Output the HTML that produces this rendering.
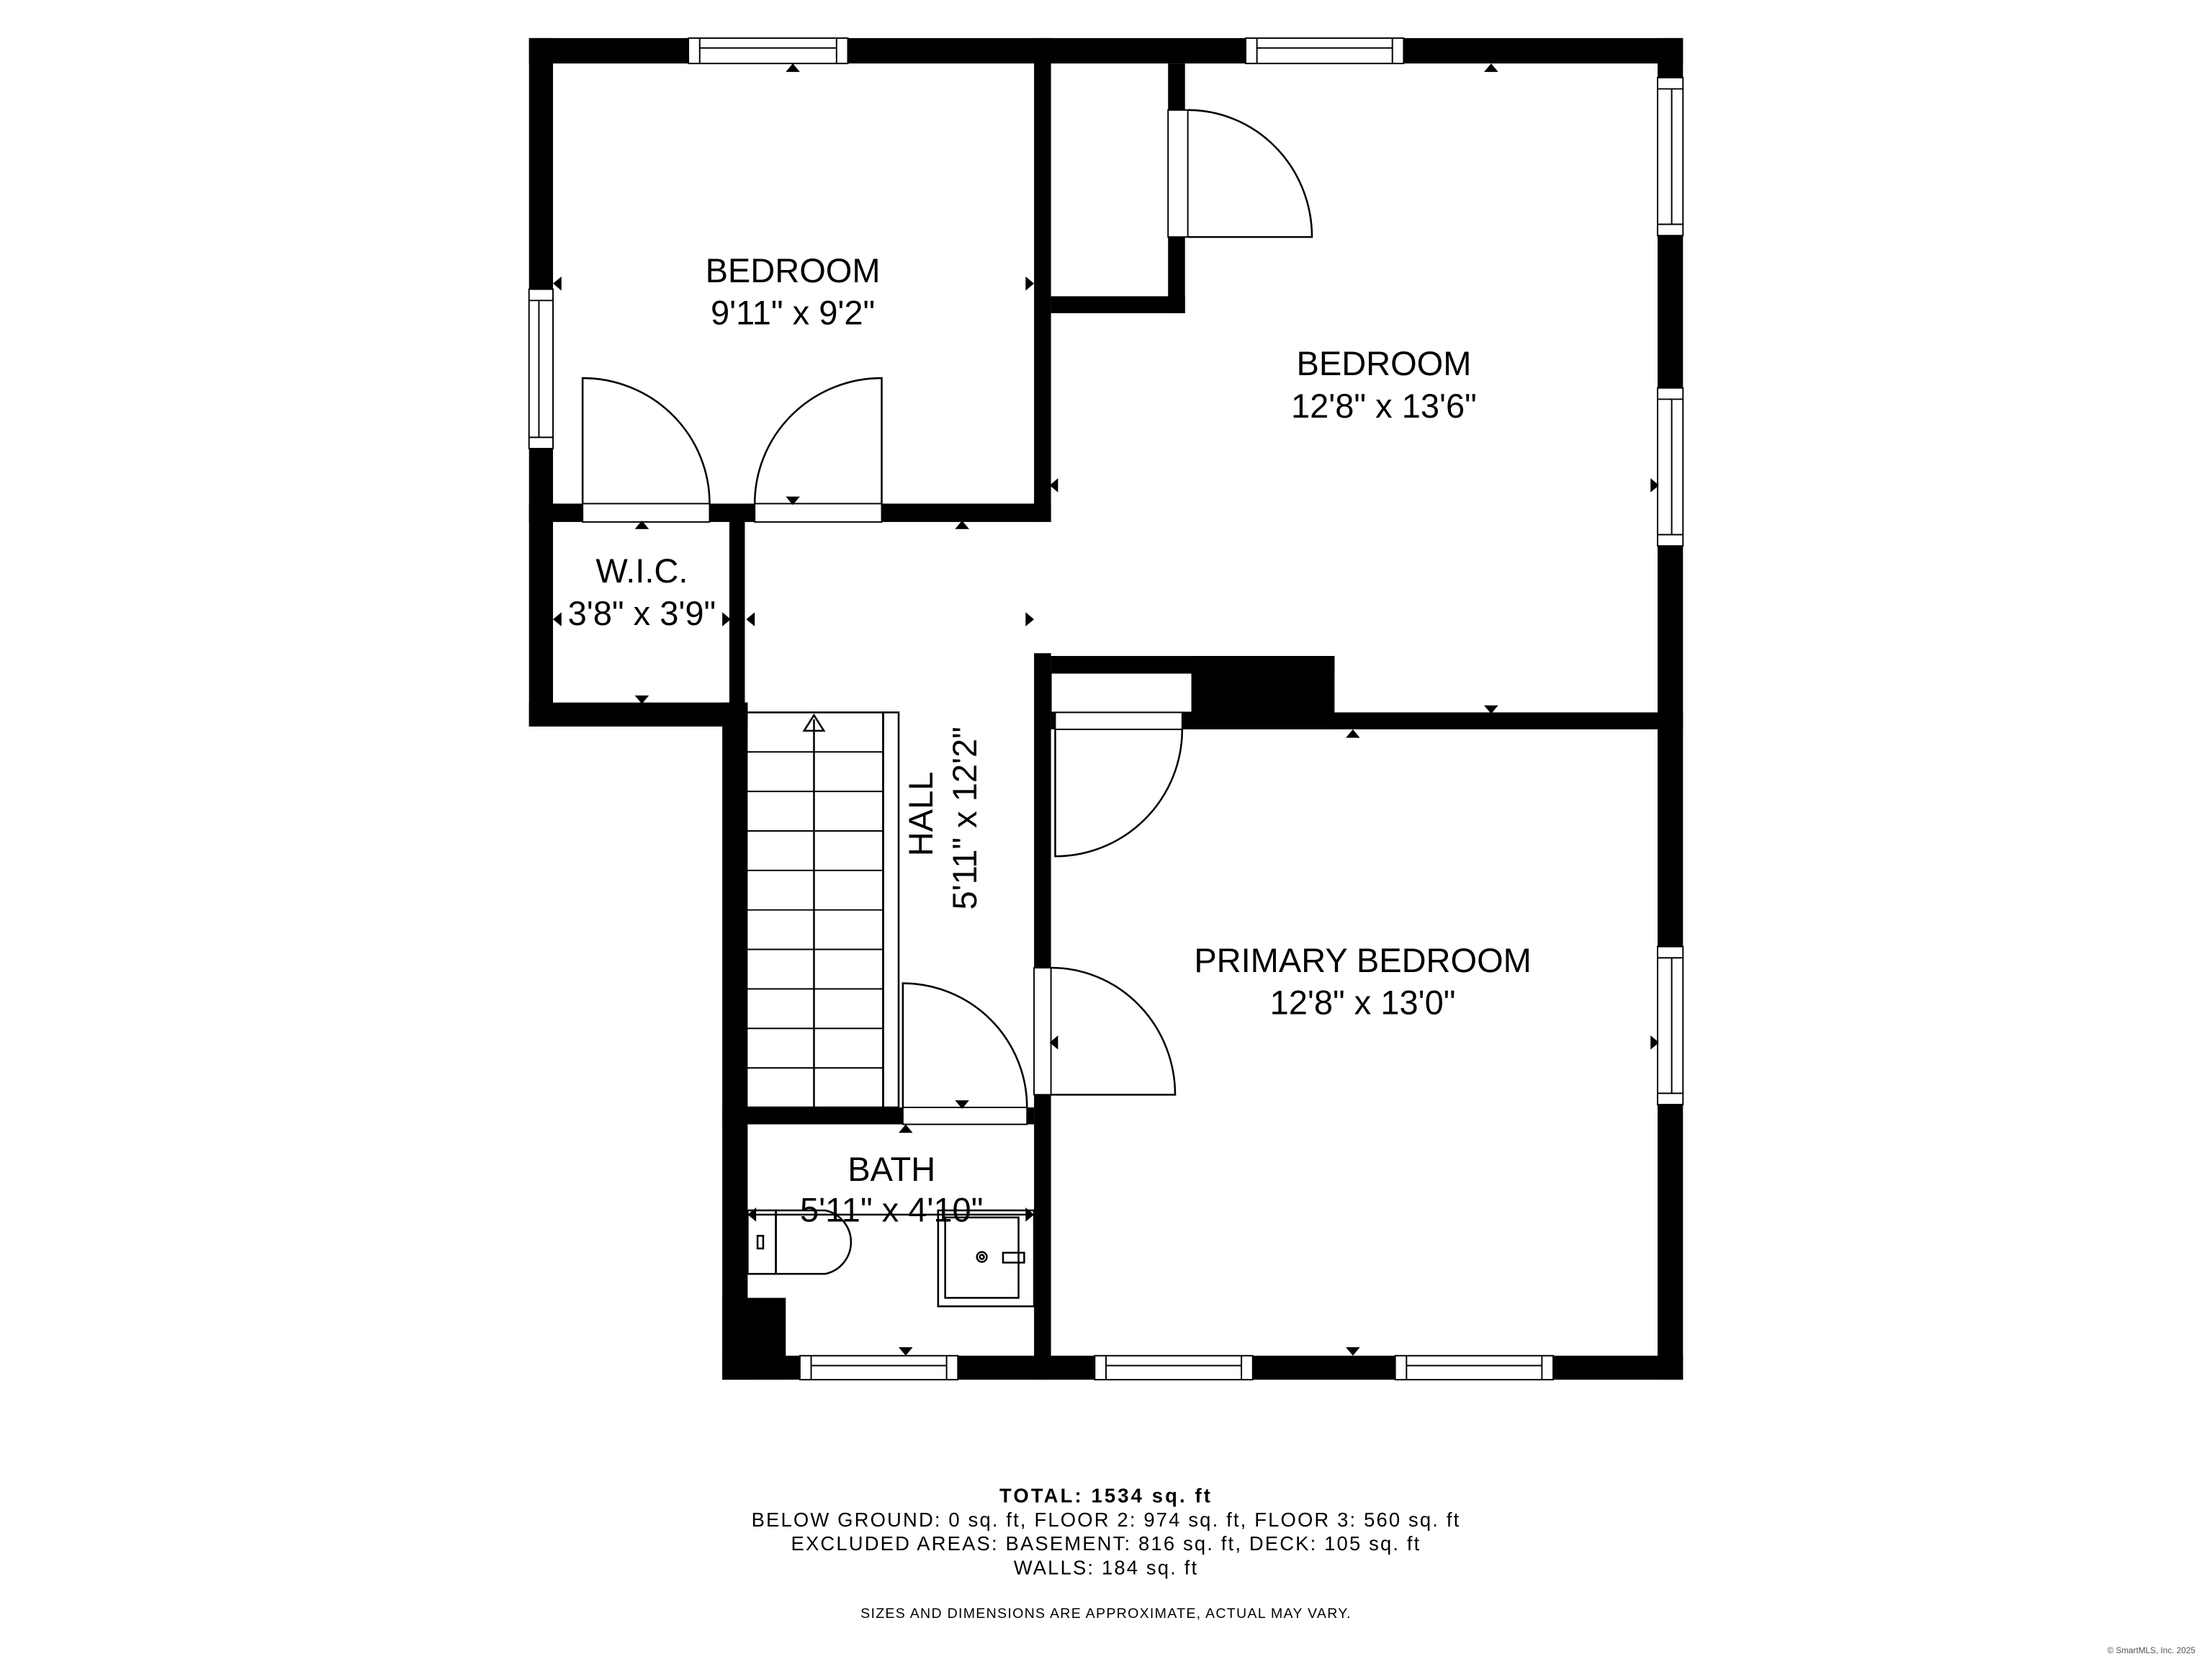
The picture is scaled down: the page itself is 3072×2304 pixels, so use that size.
<!DOCTYPE html>
<html><head><meta charset="utf-8"><style>html,body{margin:0;padding:0;background:#fff}svg{display:block}</style></head>
<body>
<svg xmlns="http://www.w3.org/2000/svg" width="3072" height="2304" viewBox="0 0 1568 1176" font-family="Liberation Sans, sans-serif">
<rect width="1568" height="1176" fill="#fff"/>
<g fill="#000">
<rect x="375" y="27" width="818" height="18"/>
<rect x="375" y="27" width="17" height="488"/>
<rect x="1175" y="27" width="18" height="951"/>
<rect x="512" y="961" width="681" height="17"/>
<rect x="375" y="498" width="155" height="17"/>
<rect x="512" y="498" width="18" height="480"/>
<rect x="517" y="360" width="11" height="150"/>
<rect x="733" y="27" width="12" height="343"/>
<rect x="733" y="463" width="12" height="515"/>
<rect x="375" y="357" width="370" height="13"/>
<rect x="828" y="45" width="12" height="177"/>
<rect x="745" y="210" width="95" height="12"/>
<rect x="745" y="465" width="201" height="12"/>
<rect x="845" y="465" width="101" height="52"/>
<rect x="745" y="505" width="448" height="12"/>
<rect x="512" y="785" width="221" height="12"/>
<rect x="512" y="920" width="45" height="58"/>
</g>
<g fill="#fff" stroke="#000" stroke-width="1">
<rect x="488" y="27" width="113" height="18"/><line x1="496" y1="34" x2="593" y2="34"/><line x1="496" y1="27" x2="496" y2="45"/><line x1="593" y1="27" x2="593" y2="45"/>
<rect x="883" y="27" width="112" height="18"/><line x1="891" y1="34" x2="987" y2="34"/><line x1="891" y1="27" x2="891" y2="45"/><line x1="987" y1="27" x2="987" y2="45"/>
<rect x="375" y="205" width="17" height="113"/><line x1="382" y1="213" x2="382" y2="310"/><line x1="375" y1="213" x2="392" y2="213"/><line x1="375" y1="310" x2="392" y2="310"/>
<rect x="1175" y="55" width="18" height="112"/><line x1="1185" y1="63" x2="1185" y2="159"/><line x1="1175" y1="63" x2="1193" y2="63"/><line x1="1175" y1="159" x2="1193" y2="159"/>
<rect x="1175" y="275" width="18" height="112"/><line x1="1185" y1="283" x2="1185" y2="379"/><line x1="1175" y1="283" x2="1193" y2="283"/><line x1="1175" y1="379" x2="1193" y2="379"/>
<rect x="1175" y="671" width="18" height="112"/><line x1="1185" y1="679" x2="1185" y2="775"/><line x1="1175" y1="679" x2="1193" y2="679"/><line x1="1175" y1="775" x2="1193" y2="775"/>
<rect x="567" y="961" width="112" height="17"/><line x1="575" y1="968" x2="671" y2="968"/><line x1="575" y1="961" x2="575" y2="978"/><line x1="671" y1="961" x2="671" y2="978"/>
<rect x="776" y="961" width="112" height="17"/><line x1="784" y1="968" x2="880" y2="968"/><line x1="784" y1="961" x2="784" y2="978"/><line x1="880" y1="961" x2="880" y2="978"/>
<rect x="989" y="961" width="112" height="17"/><line x1="997" y1="968" x2="1093" y2="968"/><line x1="997" y1="961" x2="997" y2="978"/><line x1="1093" y1="961" x2="1093" y2="978"/>
<rect x="413" y="357" width="90" height="13"/>
<rect x="535" y="357" width="90" height="13"/>
<rect x="828" y="78" width="14" height="90"/>
<rect x="745" y="477" width="100" height="28"/>
<rect x="748" y="505" width="90" height="12"/>
<rect x="733" y="686" width="12" height="90"/>
<rect x="640" y="785" width="88" height="12"/>
</g>
<rect x="734" y="370" width="10" height="93" fill="#fff"/>
<g fill="none" stroke="#000" stroke-width="1.3">
<path d="M413 357 V268 A90 89 0 0 1 503 357"/>
<path d="M625 357 V268 A90 89 0 0 0 535 357"/>
<path d="M842 168 H930 A88 90 0 0 0 842 78"/>
<path d="M748 517 V607 A90 90 0 0 0 838 517"/>
<path d="M745 776 H833 A88 90 0 0 0 745 686"/>
<path d="M640 785 V697 A88 88 0 0 1 728 785"/>
<rect x="528" y="505" width="98" height="280"/>
<rect x="626" y="505" width="11" height="280"/>
<line x1="577" y1="510" x2="577" y2="785"/>
<path d="M570 518 L577 507 L584 518 Z"/>
<g stroke-width="1">
<line x1="528" y1="533" x2="626" y2="533"/><line x1="528" y1="561" x2="626" y2="561"/><line x1="528" y1="589" x2="626" y2="589"/><line x1="528" y1="617" x2="626" y2="617"/><line x1="528" y1="645" x2="626" y2="645"/><line x1="528" y1="673" x2="626" y2="673"/><line x1="528" y1="701" x2="626" y2="701"/><line x1="528" y1="729" x2="626" y2="729"/><line x1="528" y1="757" x2="626" y2="757"/>
</g>
<path d="M550 858 H585 A23 23 0 0 1 585 903 H550 Z"/>
<rect x="530" y="858" width="20" height="45"/>
<rect x="537" y="876" width="4" height="9"/>
<rect x="665" y="858" width="68" height="68"/>
<rect x="670" y="863" width="52" height="57"/>
<circle cx="696" cy="891" r="3.5"/><circle cx="696" cy="891" r="1.5"/>
<rect x="711" y="888" width="15" height="7"/>
<line x1="530" y1="861" x2="733" y2="861"/>
</g>
<g fill="#000">
<path d="M557 51 l5 -6 l5 6z"/><path d="M1052 51 l5 -6 l5 6z"/>
<path d="M398 196 l-6 5 l6 5z"/><path d="M727 196 l6 5 l-6 5z"/>
<path d="M557 352 l5 6 l5 -6z"/><path d="M450 375 l5 -6 l5 6z"/><path d="M677 375 l5 -6 l5 6z"/>
<path d="M750 339 l-6 5 l6 5z"/><path d="M1170 339 l6 5 l-6 5z"/>
<path d="M398 434 l-6 5 l6 5z"/><path d="M512 434 l6 5 l-6 5z"/>
<path d="M535 434 l-6 5 l6 5z"/><path d="M727 434 l6 5 l-6 5z"/>
<path d="M450 493 l5 6 l5 -6z"/><path d="M1052 500 l5 6 l5 -6z"/><path d="M954 523 l5 -6 l5 6z"/>
<path d="M750 734 l-6 5 l6 5z"/><path d="M1170 734 l6 5 l-6 5z"/>
<path d="M677 780 l5 6 l5 -6z"/><path d="M637 803 l5 -6 l5 6z"/>
<path d="M536 856 l-6 5 l6 5z"/><path d="M727 856 l6 5 l-6 5z"/>
<path d="M637 955 l5 6 l5 -6z"/><path d="M954 955 l5 6 l5 -6z"/>
</g>
<g fill="#000" font-size="24" text-anchor="middle">
<text x="562" y="200">BEDROOM</text><text x="562" y="230">9'11" x 9'2"</text>
<text x="981" y="266">BEDROOM</text><text x="981" y="296">12'8" x 13'6"</text>
<text x="455" y="413">W.I.C.</text><text x="455" y="443">3'8" x 3'9"</text>
<text x="966" y="689">PRIMARY BEDROOM</text><text x="966" y="719">12'8" x 13'0"</text>
<text x="632" y="837">BATH</text><text x="632" y="866">5'11" x 4'10"</text>
<text transform="translate(661 577) rotate(-90)">HALL</text>
<text transform="translate(692 580) rotate(-90)">5'11" x 12'2"</text>
</g>
<g fill="#000" text-anchor="middle" font-size="14" letter-spacing="1.1">
<text x="784" y="1065" font-weight="bold" letter-spacing="1.6">TOTAL: 1534 sq. ft</text>
<text x="784" y="1082">BELOW GROUND: 0 sq. ft, FLOOR 2: 974 sq. ft, FLOOR 3: 560 sq. ft</text>
<text x="784" y="1099">EXCLUDED AREAS: BASEMENT: 816 sq. ft, DECK: 105 sq. ft</text>
<text x="784" y="1116">WALLS: 184 sq. ft</text>
<text x="784" y="1147" font-size="10" letter-spacing="0.65">SIZES AND DIMENSIONS ARE APPROXIMATE, ACTUAL MAY VARY.</text>
</g>
<text x="1525" y="1172" font-size="6" fill="#555" text-anchor="middle">© SmartMLS, Inc. 2025</text>
</svg>
</body></html>
